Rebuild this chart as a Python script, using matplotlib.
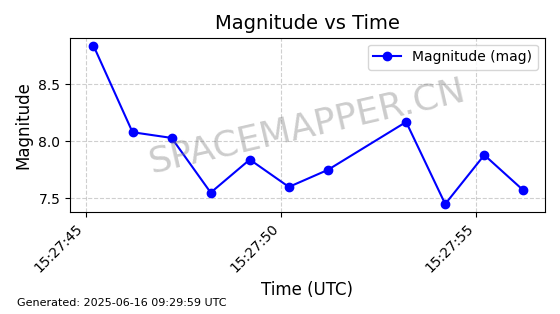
import datetime as dt
import matplotlib
matplotlib.use("Agg")
import matplotlib.dates as mdates
from matplotlib import pyplot as plt

base = dt.datetime(2025, 6, 16, 15, 27, 45, 200000)
offsets = [0, 1, 2, 3, 4, 5, 6, 8, 9, 10, 11]  # seconds after base
times = [base + dt.timedelta(seconds=s) for s in offsets]
mags = [8.84, 8.08, 8.03, 7.55, 7.84, 7.60, 7.75, 8.17, 7.45, 7.88, 7.57]

fig = plt.figure(figsize=(5.6, 3.14), dpi=100)
ax = fig.add_axes([0.125, 0.325, 0.848, 0.555])

ax.plot(times, mags, "o-", color="blue", markersize=6, label="Magnitude (mag)")
ax.set_title("Magnitude vs Time", fontsize=14)
ax.set_xlabel("Time (UTC)", fontsize=12)
ax.set_ylabel("Magnitude", fontsize=12)
ax.grid(True, linestyle="--", alpha=0.6)
ax.legend(loc="upper right")

ax.xaxis.set_major_locator(mdates.SecondLocator(bysecond=range(0, 60, 5)))
ax.xaxis.set_major_formatter(mdates.DateFormatter("%H:%M:%S"))
plt.setp(ax.get_xticklabels(), rotation=45, ha="right")
ax.set_xlim(base - dt.timedelta(seconds=0.6), base + dt.timedelta(seconds=11.55))

# watermark
ax.text(0.5, 0.49, "SPACEMAPPER.CN", transform=ax.transAxes, fontsize=26,
        color="gray", alpha=0.4, rotation=13, ha="center", va="center")

fig.text(0.03, 0.025, "Generated: 2025-06-16 09:29:59 UTC", fontsize=8)

fig.savefig("out.png")
